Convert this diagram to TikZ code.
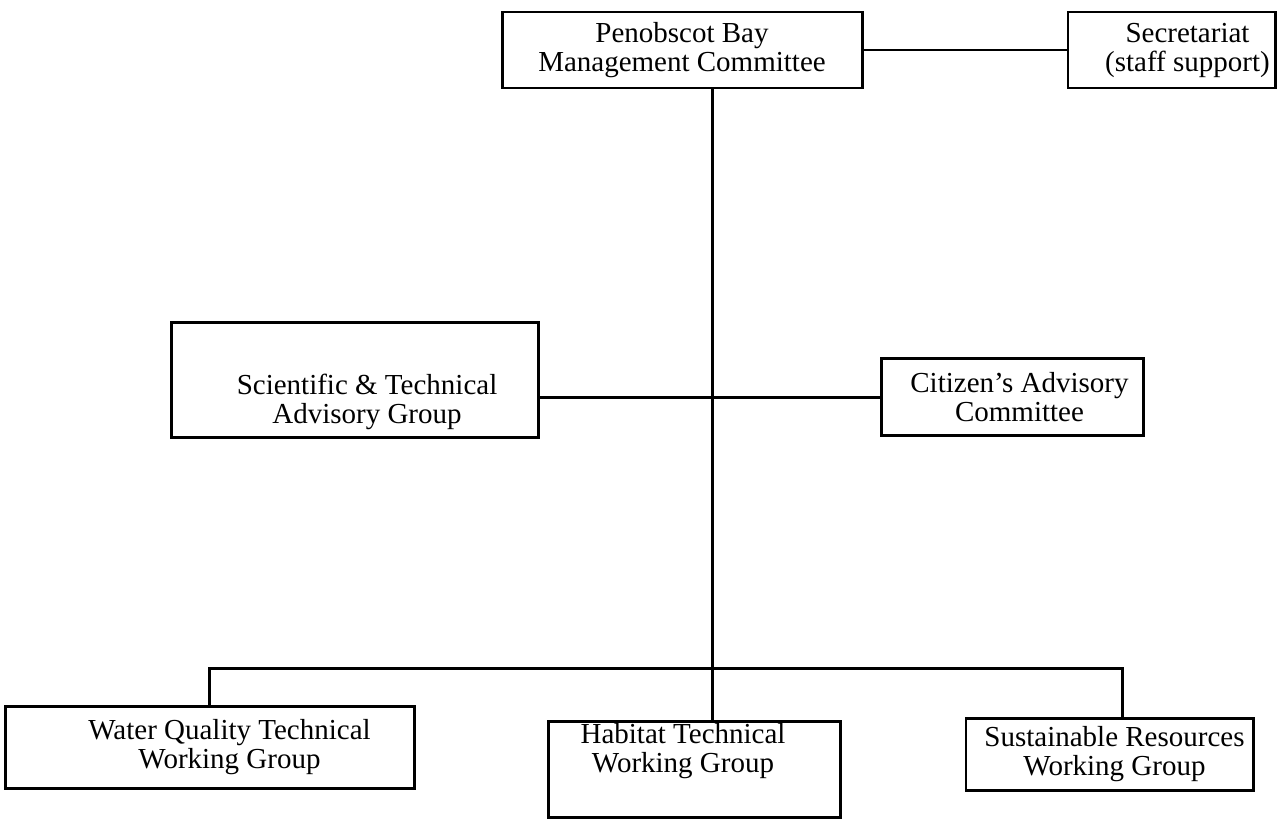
\documentclass[tikz,border=0pt]{standalone}
\usepackage{fontspec}
\setmainfont{Liberation Serif}
\usetikzlibrary{positioning}

\begin{document}
\begin{tikzpicture}[
  box/.style = {draw, line width=1.7pt, inner sep=0pt},
  txt/.style = {align=center, inner sep=0pt, font=\fontsize{16.5}{16.5}\selectfont},
  link/.style = {line width=1.7pt}
]
\useasboundingbox (0,0) rectangle (25.64,-16.42);

\node [box, minimum width=7.2cm, minimum height=1.52cm,
  label={[txt, name=pbmct]center:Penobscot Bay\\Management Committee}] (pbmc) at (13.64,-1.00) {};
\node [box, minimum width=4.14cm, minimum height=1.52cm, right=4.06cm of pbmc,
  label={[txt, name=sect, xshift=0.32cm]center:Secretariat\\(staff support)}] (sec) {};

\coordinate (hub) at (14.24,-7.94);
\node [box, minimum width=7.34cm, minimum height=2.30cm, left=3.44cm of hub, yshift=0.35cm,
  label={[txt, name=stagt, xshift=0.24cm, yshift=-0.44cm]center:Scientific \& Technical\\Advisory Group}] (stag) {};
\node [box, minimum width=5.24cm, minimum height=1.54cm, right=3.36cm of hub,
  label={[txt, name=cact, xshift=0.14cm]center:Citizen's Advisory\\Committee}] (cac) {};

\coordinate [below=5.42cm of hub] (bus);
\node [box, minimum width=5.84cm, minimum height=1.92cm, below=6.46cm of hub, xshift=-0.36cm,
  label={[txt, name=habt, xshift=-0.22cm, yshift=0.36cm]center:Habitat Technical\\Working Group}] (hab) {};
\node [box, minimum width=8.18cm, minimum height=1.64cm, left=2.62cm of hab, yshift=0.44cm,
  label={[txt, name=wqt, xshift=0.4cm]center:Water Quality Technical\\Working Group}] (wq) {};
\node [box, minimum width=5.74cm, minimum height=1.44cm, right=2.46cm of hab, yshift=0.30cm,
  label={[txt, name=srt, xshift=0.1cm]center:Sustainable Resources\\Working Group}] (sr) {};

\draw [link] (pbmc) -- (sec);
\draw [link] (pbmc.south -| hub) -- (hub);
\draw [link] (stag.east |- hub) -- (hub) -- (cac);
\draw [link] (hub) -- (hub |- hab.north);
\draw [link] (wq) |- (bus) -| ([xshift=0.25cm]sr.north);
\end{tikzpicture}
\end{document}
